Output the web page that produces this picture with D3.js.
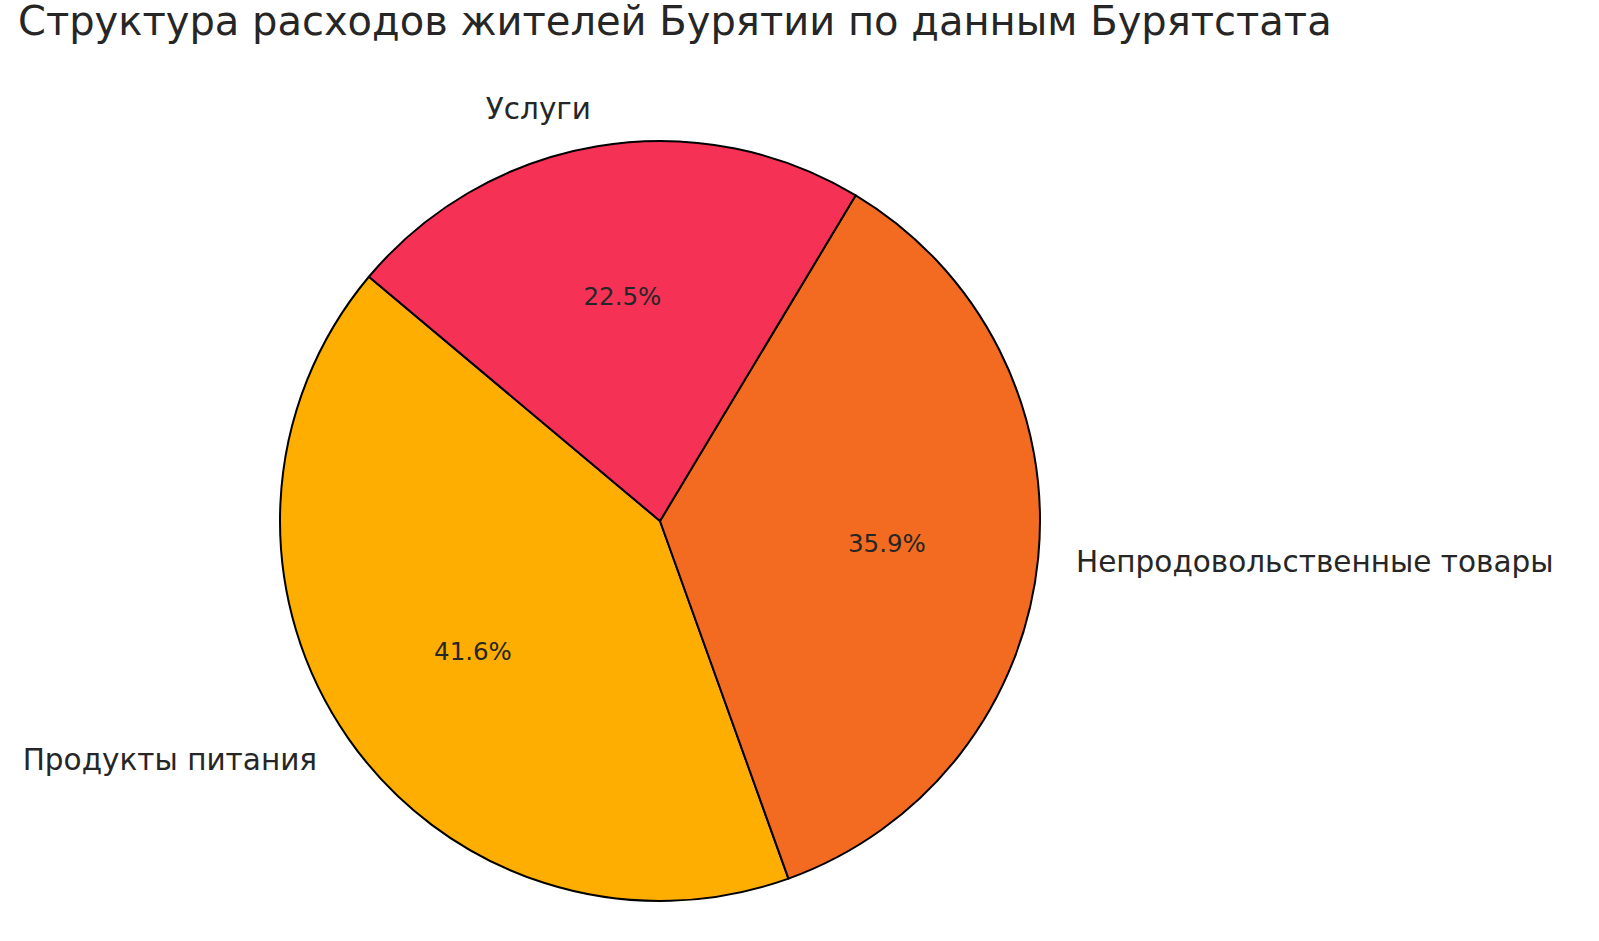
<!DOCTYPE html>
<html><head><meta charset="utf-8">
<script src="https://cdn.jsdelivr.net/npm/d3@7"></script>
<style>body{margin:0;background:#fff}svg{font-family:"DejaVu Sans",sans-serif}</style>
</head><body><svg id="c" width="1599" height="941"></svg>
<script>
const categories = ["Продукты питания", "Непродовольственные товары", "Услуги"];
const values = [41.6, 35.9, 22.5];
const colors = ["#FDAE00", "#F36B21", "#F53256"];
const title = "Структура расходов жителей Бурятии по данным Бурятстата";

const svg = d3.select("#c");
const cx = 660, cy = 521, r = 380;
const start = (90 - 140) * Math.PI / 180;
const pie = d3.pie().sort(null).startAngle(start).endAngle(start - 2 * Math.PI);
const arcs = pie(values);
const arc = d3.arc().innerRadius(0).outerRadius(r);
const g = svg.append("g").attr("transform", `translate(${cx},${cy})`);
g.selectAll("path").data(arcs).join("path")
  .attr("d", arc).attr("fill", (d, i) => colors[i])
  .attr("stroke", "#000").attr("stroke-width", 2).attr("stroke-linejoin", "round");
function pos(d, k) { const a = (d.startAngle + d.endAngle) / 2; return [Math.sin(a) * r * k, -Math.cos(a) * r * k]; }
g.selectAll("text.lab").data(arcs).join("text")
  .attr("x", d => pos(d, 1.1)[0]).attr("y", d => pos(d, 1.1)[1])
  .attr("text-anchor", d => pos(d, 1.1)[0] >= 0 ? "start" : "end")
  .attr("dominant-baseline", "central").attr("font-size", 29.5).attr("fill", "#262626")
  .text((d, i) => categories[i]);
g.selectAll("text.pct").data(arcs).join("text")
  .attr("x", d => pos(d, 0.6)[0]).attr("y", d => pos(d, 0.6)[1])
  .attr("text-anchor", "middle").attr("dominant-baseline", "central")
  .attr("font-size", 24.5).attr("fill", "#262626")
  .text(d => d.data.toFixed(1) + "%");
svg.append("text").attr("x", 18).attr("y", 35).attr("font-size", 40).attr("fill", "#262626").text(title);
</script></body></html>
